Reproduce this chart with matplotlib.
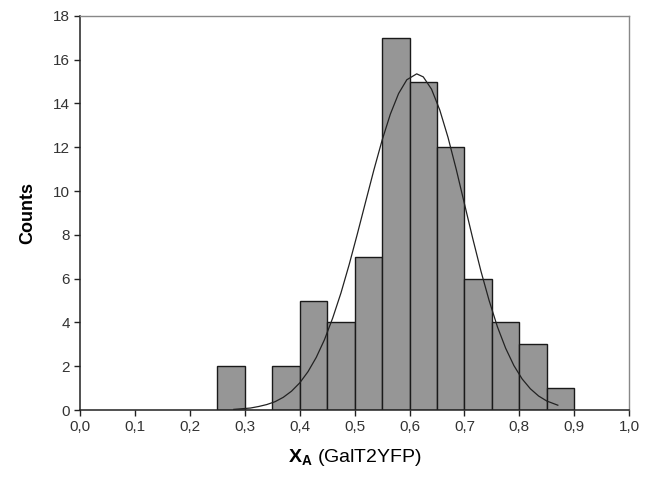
import matplotlib
matplotlib.use("Agg")
import matplotlib.pyplot as plt

plt.rcParams['font.family'] = ['Liberation Sans', 'DejaVu Sans']
plt.rcParams['mathtext.fontset'] = 'custom'
plt.rcParams['mathtext.rm'] = 'Liberation Sans'
plt.rcParams['mathtext.bf'] = 'Liberation Sans:bold'

# histogram bins (left edges) and counts
bin_left = [0.25, 0.30, 0.35, 0.40, 0.45, 0.50, 0.55, 0.60, 0.65, 0.70, 0.75, 0.80, 0.85]
counts = [2, 0, 2, 5, 4, 7, 17, 15, 12, 6, 4, 3, 1]
bin_width = 0.05

# fitted curve
fit_x = [0.28, 0.295, 0.31, 0.325, 0.34, 0.355, 0.37, 0.385, 0.40, 0.415, 0.43,
         0.445, 0.46, 0.475, 0.49, 0.505, 0.52, 0.535, 0.55, 0.565, 0.58, 0.595,
         0.613, 0.625, 0.64, 0.655, 0.67, 0.685, 0.70, 0.715, 0.73, 0.745, 0.76,
         0.775, 0.79, 0.805, 0.82, 0.835, 0.85, 0.87]
fit_y = [0.03, 0.06, 0.09, 0.16, 0.25, 0.38, 0.58, 0.86, 1.24, 1.75, 2.40,
         3.21, 4.20, 5.34, 6.64, 8.05, 9.51, 10.96, 12.32, 13.51, 14.45, 15.08,
         15.35, 15.21, 14.65, 13.70, 12.45, 10.99, 9.41, 7.84, 6.34, 4.99, 3.80,
         2.82, 2.03, 1.42, 0.97, 0.64, 0.41, 0.22]

xticks = [0.0, 0.1, 0.2, 0.3, 0.4, 0.5, 0.6, 0.7, 0.8, 0.9, 1.0]
xtick_labels = ["0,0", "0,1", "0,2", "0,3", "0,4", "0,5", "0,6", "0,7", "0,8", "0,9", "1,0"]
yticks = [0, 2, 4, 6, 8, 10, 12, 14, 16, 18]

fig = plt.figure(figsize=(6.46, 4.79), dpi=100)
ax = fig.add_axes([0.124, 0.144, 0.850, 0.823])

ax.bar(bin_left, counts, width=bin_width, align='edge', color='#969696',
       edgecolor='#1a1a1a', linewidth=1.0, zorder=2)
ax.plot(fit_x, fit_y, color='#222222', linewidth=0.9, zorder=3)

ax.set_xlim(0, 1.0)
ax.set_ylim(0, 18)
ax.set_xticks(xticks)
ax.set_xticklabels(xtick_labels)
ax.set_yticks(yticks)
ax.tick_params(direction='out', length=4, width=1, labelsize=11,
               colors='#222222', labelcolor='#333333')

for s in ['left', 'bottom']:
    ax.spines[s].set_color('#222222')
    ax.spines[s].set_linewidth(1.1)
for s in ['top', 'right']:
    ax.spines[s].set_color('#888888')
    ax.spines[s].set_linewidth(1.0)

ax.set_ylabel("Counts", fontsize=13, fontweight='bold', labelpad=12)
ax.set_xlabel(r"$\mathbf{X}_\mathbf{A}$ (GalT2YFP)", fontsize=14, labelpad=9)

fig.savefig("out.png", dpi=100)
